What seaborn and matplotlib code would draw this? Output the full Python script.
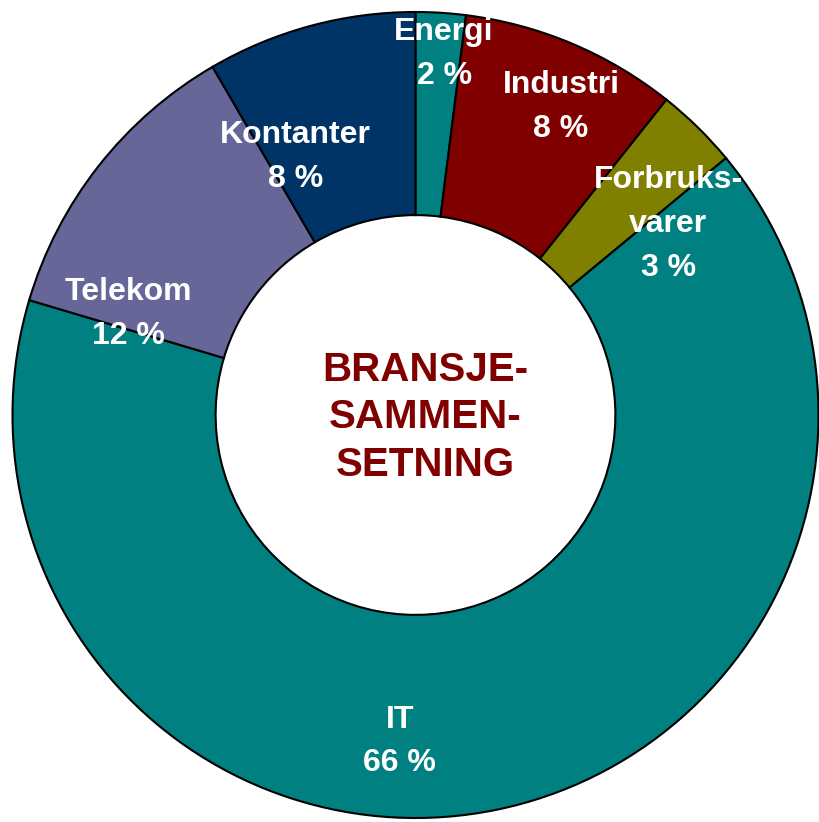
import matplotlib
matplotlib.use("Agg")
import matplotlib.pyplot as plt
import seaborn as sns

# andeler (prosent) lest av figuren, med uret fra toppen
bransjer = ["Energi", "Industri", "Forbruks-\nvarer", "IT", "Telekom", "Kontanter"]
andeler = [2.0, 8.7, 3.3, 65.6, 12.0, 8.4]
etiketter = ["2 %", "8 %", "3 %", "66 %", "12 %", "8 %"]
farger = ["#008080", "#800000", "#808000", "#008080", "#666699", "#003366"]

sns.set_theme(style="white")
plt.rcParams["font.family"] = ["Liberation Sans", "DejaVu Sans"]

fig = plt.figure(figsize=(8.2, 8.22), dpi=100)
ax = fig.add_axes([0.01524, 0.00487, 0.98293, 0.98054])

ax.pie(andeler, colors=farger, startangle=90, counterclock=False,
       radius=1.0,
       wedgeprops=dict(width=0.504, edgecolor="black", linewidth=1.5))

# etikettplassering (omtrent som i originalen)
pos = [(0.071, 0.896), (0.361, 0.764), (0.627, 0.474),
       (-0.039, -0.81), (-0.713, 0.25), (-0.297, 0.64)]
for navn, tekst, (x, y) in zip(bransjer, etiketter, pos):
    ax.text(x, y, f"{navn}\n{tekst}", ha="center", va="center",
            color="white", fontsize=23, fontweight="bold", linespacing=1.6)

ax.text(0.024, -0.006, "BRANSJE-\nSAMMEN-\nSETNING", ha="center", va="center",
        color="#800000", fontsize=29, fontweight="bold", linespacing=1.33)

ax.set_xlim(-1, 1)
ax.set_ylim(-1, 1)
ax.set_aspect("equal")
ax.axis("off")

fig.savefig("out.png", dpi=100, facecolor="white")
